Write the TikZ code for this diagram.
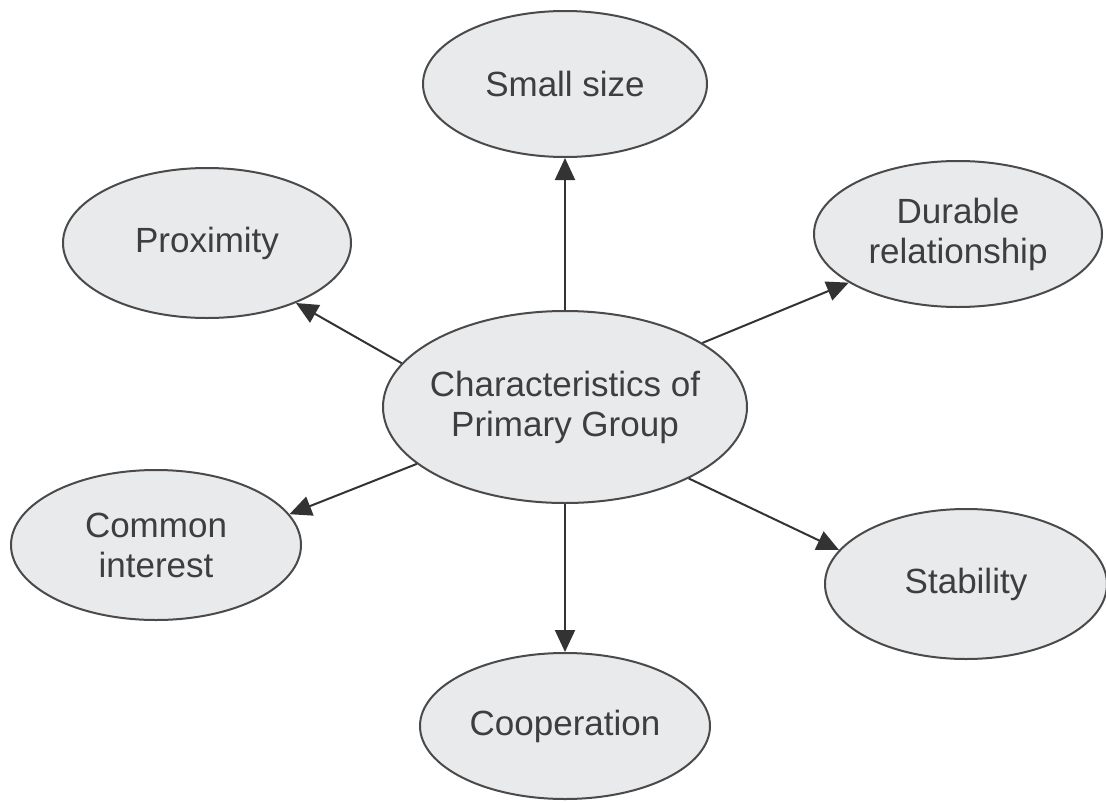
\documentclass[tikz,border=0pt]{standalone}
\usepackage{fontspec}
\setmainfont{Liberation Sans}
\usetikzlibrary{shapes.geometric,arrows.meta}
\definecolor{ellfill}{HTML}{E9EAEC}
\definecolor{ellline}{HTML}{4A4A4A}
\definecolor{txtcol}{HTML}{3E3E3E}
\definecolor{arrcol}{HTML}{333333}
\tikzset{
  ell/.style={ellipse, draw=ellline, line width=2pt, fill=ellfill, inner sep=0pt},
  txt/.style={align=center, text=txtcol, font=\fontsize{35}{40}\selectfont, inner sep=0pt},
  conn/.style={draw=arrcol, line width=2pt, -{Triangle[length=22pt,width=20pt]}}
}
\begin{document}
\begin{tikzpicture}[x=1pt,y=-1pt]
\useasboundingbox (0,0) rectangle (1106,803);
% ellipses
\node[ell, minimum width=364pt, minimum height=192pt] (c) at (565,407) {};
\node[ell, minimum width=284pt, minimum height=146pt] (s) at (565,84) {};
\node[ell, minimum width=288pt, minimum height=150pt] (p) at (207,243) {};
\node[ell, minimum width=288pt, minimum height=146pt] (d) at (958,234) {};
\node[ell, minimum width=290pt, minimum height=150pt] (ci) at (156,545) {};
\node[ell, minimum width=282pt, minimum height=150pt] (st) at (966,584) {};
\node[ell, minimum width=290pt, minimum height=146pt] (co) at (565,726) {};
% texts
\node[txt] (ct) at (c) {Characteristics of\\Primary Group};
\node[txt] (stx) at (s) {Small size};
\node[txt] (ptx) at (p) {Proximity};
\node[txt] (dtx) at (d) {Durable\\relationship};
\node[txt] (citx) at (ci) {Common\\interest};
\node[txt] (sttx) at (st) {Stability};
\node[txt] (cotx) at (co) {Cooperation};
% connectors
\draw[conn] (c.north) -- (s.south);
\draw[conn] (c.south) -- (co.north);
\draw[conn] (c.165) -- (p.-34);
\draw[conn] (c.201) -- (ci.13);
\draw[conn] (c.25) -- (d.204);
\draw[conn] (c.-30) -- (st.165);
\end{tikzpicture}
\end{document}
